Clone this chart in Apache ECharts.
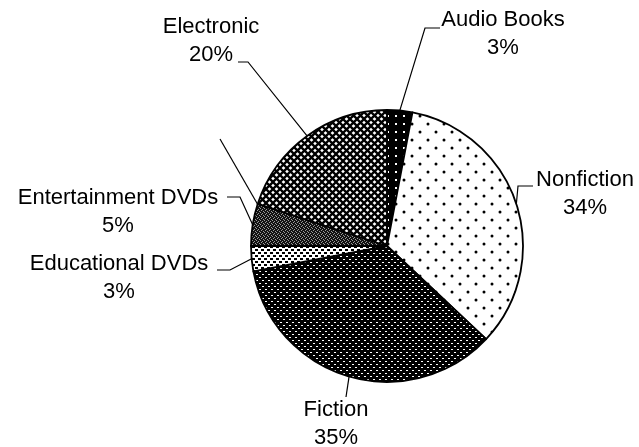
<!DOCTYPE html>
<html lang="en">
<head>
    <meta charset="UTF-8">
    <title>Library Collection</title>
    <style>
        html, body { margin: 0; padding: 0; background: #fff; }
        #chart { width: 639px; height: 447px; }
    </style>
</head>
<body>
    <div id="chart"></div>
    <script src="https://cdn.jsdelivr.net/npm/echarts@6/dist/echarts.min.js"></script>
    <script>
        // data
        var categories = ['Audio Books', 'Nonfiction', 'Fiction', 'Educational DVDs', 'Entertainment DVDs', 'Electronic'];
        var values = [3, 34, 35, 3, 5, 20];

        // where each label sits: [centre x, middle y], elbow and end of the leader
        var labelPos = [
            { x: 503, y: 34, elbow: [425, 28], end: [440, 28] },
            { x: 585, y: 194, elbow: [518, 186], end: [533, 186] },
            { x: 336, y: 424, elbow: [346, 397], end: [346, 397] },
            { x: 119, y: 278, elbow: [230, 270], end: [217, 270] },
            { x: 118, y: 212, elbow: [240, 197], end: [227, 197] },
            { x: 211, y: 41, elbow: [248, 62], end: [238, 62] }
        ];

        // small canvas tiles for the hatch fills
        function tile(size, bg, draw) {
            var c = document.createElement('canvas');
            c.width = size; c.height = size;
            var ctx = c.getContext('2d');
            ctx.fillStyle = bg;
            ctx.fillRect(0, 0, size, size);
            draw(ctx, size);
            return { image: c, repeat: 'repeat' };
        }

        var fills = [
            // audio books: black with white dots
            tile(8, '#000', function (ctx) {
                ctx.fillStyle = '#fff';
                ctx.fillRect(3, 3, 2, 2);
            }),
            // nonfiction: white with sparse black dots
            tile(16, '#fff', function (ctx) {
                ctx.fillStyle = '#000';
                ctx.beginPath(); ctx.arc(4, 4, 1.5, 0, Math.PI * 2); ctx.fill();
                ctx.beginPath(); ctx.arc(12, 12, 1.5, 0, Math.PI * 2); ctx.fill();
            }),
            // fiction: black with dense white dots
            tile(6, '#000', function (ctx) {
                ctx.fillStyle = '#fff';
                ctx.fillRect(1, 1, 2, 1);
                ctx.fillRect(4, 4, 2, 1);
            }),
            // educational dvds: white with dense black dots
            tile(6, '#fff', function (ctx) {
                ctx.fillStyle = '#000';
                ctx.fillRect(0, 0, 3, 2);
                ctx.fillRect(3, 3, 3, 2);
            }),
            // entertainment dvds: fine dark grey grain
            tile(4, '#111', function (ctx) {
                ctx.fillStyle = '#999';
                ctx.fillRect(0, 0, 1, 1);
                ctx.fillRect(2, 1, 1, 1);
                ctx.fillRect(1, 2, 1, 1);
                ctx.fillRect(3, 3, 1, 1);
            }),
            // electronic: diagonal cross hatch
            tile(7, '#fff', function (ctx, s) {
                ctx.strokeStyle = '#000';
                ctx.lineWidth = 2.3;
                ctx.beginPath();
                ctx.moveTo(-1, -1); ctx.lineTo(s + 1, s + 1);
                ctx.moveTo(s + 1, -1); ctx.lineTo(-1, s + 1);
                ctx.stroke();
            })
        ];

        var chart = echarts.init(document.getElementById('chart'));

        var option = {
            backgroundColor: '#fff',
            animation: false,
            graphic: [{
                type: 'line',
                shape: { x1: 220, y1: 139, x2: 258, y2: 205 },
                style: { stroke: '#000', lineWidth: 1.2 }
            }],
            series: [{
                type: 'pie',
                center: [387, 246],
                radius: 136,
                startAngle: 90,
                clockwise: true,
                avoidLabelOverlap: false,
                minShowLabelAngle: 0,
                itemStyle: { borderColor: '#000', borderWidth: 1.8 },
                label: {
                    show: true,
                    position: 'outside',
                    formatter: '{b}\n{d}%',
                    fontFamily: 'Liberation Sans, Arial, sans-serif',
                    fontSize: 22,
                    lineHeight: 28,
                    color: '#000',
                    align: 'center'
                },
                labelLine: {
                    show: true,
                    lineStyle: { color: '#000', width: 1.2 }
                },
                labelLayout: function (p) {
                    var pos = labelPos[p.dataIndex];
                    var start = p.labelLinePoints ? p.labelLinePoints[0] : pos.elbow;
                    return {
                        x: pos.x,
                        y: pos.y,
                        align: 'center',
                        verticalAlign: 'middle',
                        labelLinePoints: [start, pos.elbow, pos.end]
                    };
                },
                data: categories.map(function (name, i) {
                    return { name: name, value: values[i], itemStyle: { color: fills[i] } };
                })
            }]
        };

        chart.setOption(option);
    </script>
</body>
</html>
